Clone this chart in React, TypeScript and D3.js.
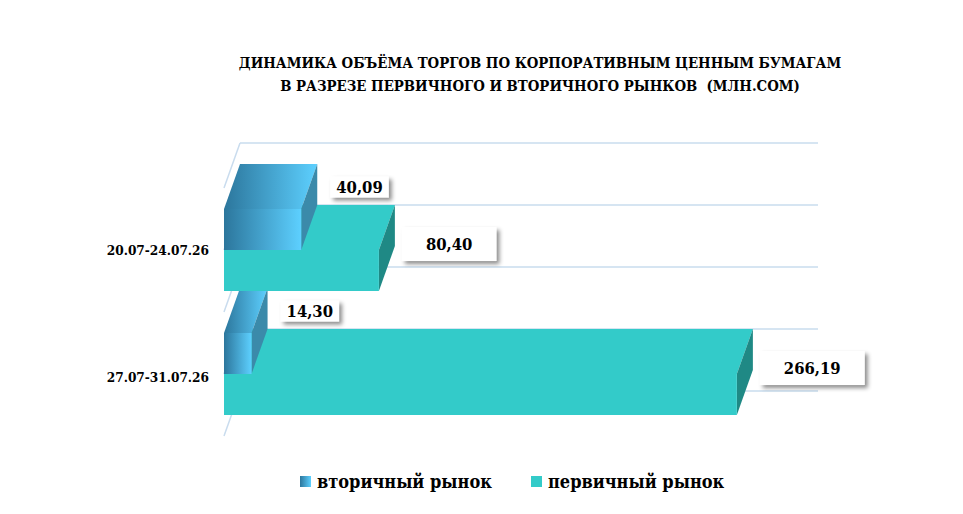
import React, { useEffect, useRef } from 'react';
import * as d3 from 'd3';

// chart data
const categories = ['20.07-24.07.26', '27.07-31.07.26'];
const seriesNames = ['вторичный рынок', 'первичный рынок'];
const secondary = [40.09, 14.3];
const primary = [80.4, 266.19];
const valueLabels = [['40,09', '14,30'], ['80,40', '266,19']];
const titleLines = [
    'ДИНАМИКА ОБЪЁМА ТОРГОВ ПО КОРПОРАТИВНЫМ ЦЕННЫМ БУМАГАМ',
    'В РАЗРЕЗЕ ПЕРВИЧНОГО И ВТОРИЧНОГО РЫНКОВ  (МЛН.СОМ)',
];

const FONT = '"DejaVu Serif Condensed", "DejaVu Serif", serif';

const App: React.FC = () => {
    const svgRef = useRef<SVGSVGElement | null>(null);

    useEffect(() => {
        if (!svgRef.current) return;
        const svg = d3.select(svgRef.current);
        svg.selectAll('*').remove();

        const width = 963;
        const height = 514;
        // 3d depth offset
        const dx = 16;
        const dy = -45;

        const x = d3.scaleLinear().domain([0, 300]).range([224, 802]);
        const y = d3.scaleBand<string>().domain(categories).range([188, 436]).padding(0);
        const sub = d3.scaleBand<string>().domain(seriesNames).range([0, y.step()])
            .paddingInner(0).paddingOuter(0.512);

        const defs = svg.append('defs');
        const grad = defs.append('linearGradient').attr('id', 'blueGrad')
            .attr('x1', '0%').attr('x2', '100%').attr('y1', '0%').attr('y2', '0%');
        grad.append('stop').attr('offset', '0%').attr('stop-color', '#2C769C');
        grad.append('stop').attr('offset', '100%').attr('stop-color', '#5DD0FF');

        const shadow = defs.append('filter').attr('id', 'shadow')
            .attr('x', '-20%').attr('y', '-30%').attr('width', '150%').attr('height', '180%');
        shadow.append('feDropShadow').attr('dx', 3).attr('dy', 3).attr('stdDeviation', 2)
            .attr('flood-color', '#000').attr('flood-opacity', 0.45);

        // title
        svg.append('g').selectAll('text').data(titleLines).enter().append('text')
            .attr('x', 540).attr('y', (d, i) => 68 + i * 23)
            .attr('text-anchor', 'middle')
            .style('white-space', 'pre')
            .style('font-family', FONT).style('font-weight', 'bold').style('font-size', '14.8px')
            .style('fill', '#000')
            .text(d => d);

        // gridlines on back wall + left wall diagonals
        const gridY: number[] = [];
        categories.forEach(c => {
            gridY.push(y(c)!);
            gridY.push(y(c)! + y.bandwidth() / 2);
        });
        gridY.push(y.range()[1]);

        const grid = svg.append('g');
        grid.selectAll('line.h').data(gridY).enter().append('line')
            .attr('x1', x(0) + dx).attr('x2', x(300) + dx)
            .attr('y1', d => d + dy).attr('y2', d => d + dy)
            .style('stroke', '#C9DCEE').style('stroke-width', 1.5);
        grid.selectAll('line.d').data(gridY).enter().append('line')
            .attr('x1', x(0)).attr('x2', x(0) + dx)
            .attr('y1', d => d).attr('y2', d => d + dy)
            .style('stroke', '#C9DCEE').style('stroke-width', 1.5);

        // one 3d box
        const drawBar = (g: any, v: number, top: number, h: number, front: string, topFill: string, side: string) => {
            const x0 = x(0);
            const x1 = x(v);
            g.append('path')
                .attr('d', `M${x0},${top} L${x0 + dx},${top + dy} L${x1 + dx},${top + dy} L${x1},${top} Z`)
                .style('fill', topFill);
            g.append('path')
                .attr('d', `M${x1},${top} L${x1 + dx},${top + dy} L${x1 + dx},${top + h + dy} L${x1},${top + h} Z`)
                .style('fill', side);
            g.append('rect').attr('x', x0).attr('y', top).attr('width', x1 - x0).attr('height', h)
                .style('fill', front);
        };

        const bars = svg.append('g');
        // draw lower category first so upper one overlaps correctly
        for (let ci = categories.length - 1; ci >= 0; ci--) {
            const c = categories[ci];
            const yb = y(c)!;
            drawBar(bars, primary[ci], yb + sub(seriesNames[1])!, sub.bandwidth(), '#33CBC9', '#33CBC9', '#1F8985');
            drawBar(bars, secondary[ci], yb + sub(seriesNames[0])!, sub.bandwidth(), 'url(#blueGrad)', 'url(#blueGrad)', '#3B8AAA');
        }

        // value labels
        const labels = svg.append('g');
        const seriesVals = [secondary, primary];
        const labelStyle = [
            { padX: 6, h: 21, gap: 13, shiftY: -20 },
            { padX: 24, h: 34, gap: 7, shiftY: -4 },
        ];
        seriesVals.forEach((vals, si) => {
            vals.forEach((v, ci) => {
                const st = labelStyle[si];
                const mid = y(categories[ci])! + sub(seriesNames[si])! + sub.bandwidth() / 2 + dy / 2;
                const cy = mid + st.shiftY;
                const g = labels.append('g');
                const rect = g.append('rect').style('fill', '#fff').attr('filter', 'url(#shadow)');
                const t = g.append('text')
                    .attr('y', cy).attr('dy', '0.36em').attr('text-anchor', 'middle')
                    .style('font-family', FONT).style('font-weight', 'bold').style('font-size', '16.5px')
                    .style('fill', '#000')
                    .text(valueLabels[si][ci]);
                const tw = (t.node() as SVGTextElement).getComputedTextLength();
                const bw = tw + st.padX * 2;
                const left = x(v) + dx + st.gap;
                rect.attr('x', left).attr('y', cy - st.h / 2).attr('width', bw).attr('height', st.h);
                t.attr('x', left + bw / 2);
            });
        });

        // category labels
        svg.append('g').selectAll('text').data(categories).enter().append('text')
            .attr('x', 209).attr('y', (d, i) => y(d)! + y.bandwidth() / 2 + (i === 1 ? 3 : 0))
            .attr('dy', '0.36em').attr('text-anchor', 'end')
            .style('font-family', FONT).style('font-weight', 'bold').style('font-size', '13.5px')
            .style('fill', '#000')
            .text(d => d);

        // legend
        const legendX = [300, 531];
        const legendFill = ['url(#blueGrad)', '#33CBC9'];
        const lg = svg.append('g');
        seriesNames.forEach((s, i) => {
            lg.append('rect').attr('x', legendX[i]).attr('y', 476).attr('width', 11).attr('height', 11)
                .style('fill', legendFill[i]);
            lg.append('text').attr('x', legendX[i] + 17).attr('y', 482).attr('dy', '0.36em')
                .style('font-family', FONT).style('font-weight', 'bold').style('font-size', '18px')
                .style('fill', '#000')
                .text(s);
        });

        svg.attr('width', width).attr('height', height);
    }, []);

    return (
        <svg ref={svgRef} width={963} height={514}
            style={{ position: 'absolute', left: 0, top: 0, background: '#fff' }} />
    );
};

export default App;
